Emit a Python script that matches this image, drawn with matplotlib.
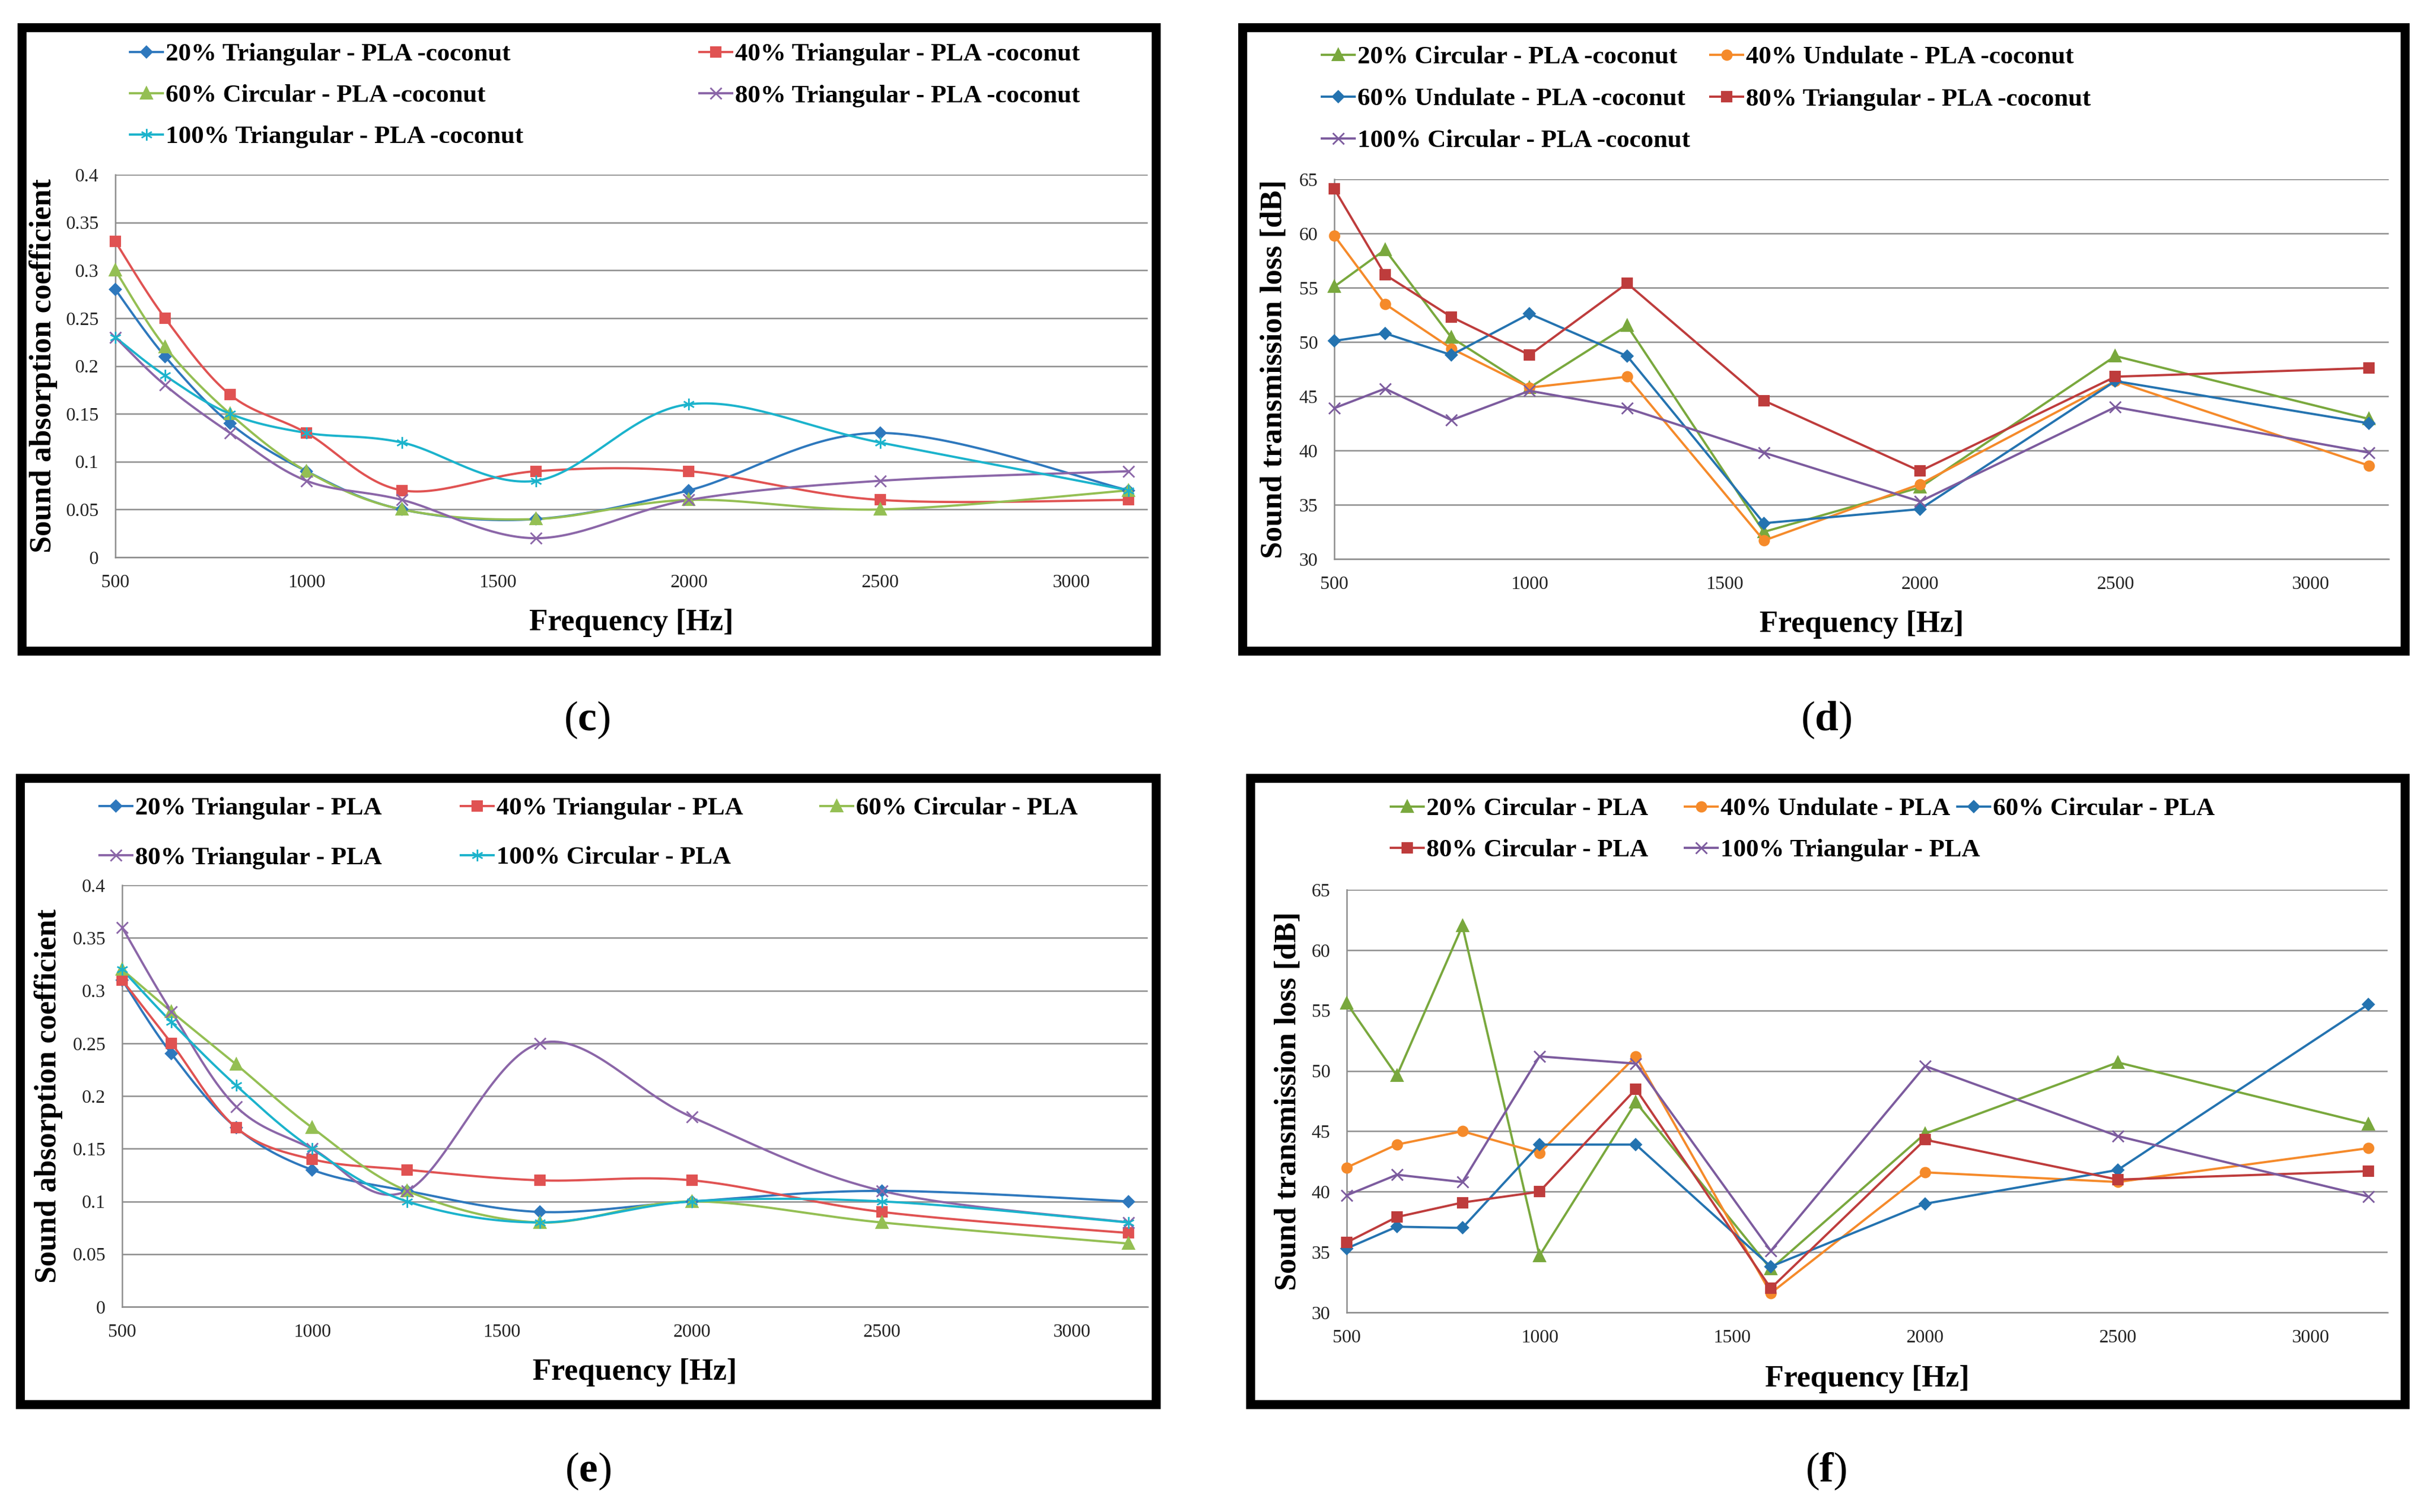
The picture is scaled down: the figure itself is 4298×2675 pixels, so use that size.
import numpy as np
import matplotlib
matplotlib.use("Agg")
import matplotlib.pyplot as plt
from matplotlib.lines import Line2D
from matplotlib.patches import Rectangle
from matplotlib.path import Path

W, H, DPI = 4298, 2675, 300

plt.rcParams['font.family'] = ['Liberation Serif', 'DejaVu Serif']
plt.rcParams['mathtext.fontset'] = 'custom'
plt.rcParams['mathtext.rm'] = 'Liberation Serif'
plt.rcParams['mathtext.bf'] = 'Liberation Serif:bold'

# frequencies (Hz)
freq = [500, 630, 800, 1000, 1250, 1600, 2000, 2500, 3150]

# (c) sound absorption coefficient, PLA - coconut
c_labels = ["20% Triangular - PLA -coconut", "40% Triangular - PLA -coconut",
            "60% Circular - PLA -coconut", "80% Triangular - PLA -coconut",
            "100% Triangular - PLA -coconut"]
c_tri20 = [0.28, 0.21, 0.14, 0.09, 0.05, 0.04, 0.07, 0.13, 0.07]
c_tri40 = [0.33, 0.25, 0.17, 0.13, 0.07, 0.09, 0.09, 0.06, 0.06]
c_cir60 = [0.30, 0.22, 0.15, 0.09, 0.05, 0.04, 0.06, 0.05, 0.07]
c_tri80 = [0.23, 0.18, 0.13, 0.08, 0.06, 0.02, 0.06, 0.08, 0.09]
c_tri100 = [0.23, 0.19, 0.15, 0.13, 0.12, 0.08, 0.16, 0.12, 0.07]

# (d) sound transmission loss, PLA - coconut
d_labels = ["20% Circular - PLA -coconut", "40% Undulate - PLA -coconut",
            "60% Undulate - PLA -coconut", "80% Triangular - PLA -coconut",
            "100% Circular - PLA -coconut"]
d_cir20 = [55.1, 58.5, 50.4, 45.8, 51.5, 32.5, 36.6, 48.7, 42.9]
d_und40 = [59.8, 53.5, 49.4, 45.8, 46.8, 31.7, 36.9, 46.4, 38.6]
d_und60 = [50.1, 50.8, 48.8, 52.6, 48.7, 33.3, 34.6, 46.4, 42.5]
d_tri80 = [64.1, 56.2, 52.3, 48.8, 55.4, 44.6, 38.1, 46.8, 47.6]
d_cir100 = [43.9, 45.7, 42.8, 45.5, 43.9, 39.8, 35.3, 44.0, 39.8]

# (e) sound absorption coefficient, PLA
e_labels = ["20% Triangular - PLA", "40% Triangular - PLA", "60% Circular - PLA",
            "80% Triangular - PLA", "100% Circular - PLA"]
e_tri20 = [0.31, 0.24, 0.17, 0.13, 0.11, 0.09, 0.10, 0.11, 0.10]
e_tri40 = [0.31, 0.25, 0.17, 0.14, 0.13, 0.12, 0.12, 0.09, 0.07]
e_cir60 = [0.32, 0.28, 0.23, 0.17, 0.11, 0.08, 0.10, 0.08, 0.06]
e_tri80 = [0.36, 0.28, 0.19, 0.15, 0.11, 0.25, 0.18, 0.11, 0.08]
e_cir100 = [0.32, 0.27, 0.21, 0.15, 0.10, 0.08, 0.10, 0.10, 0.08]

# (f) sound transmission loss, PLA
f_labels = ["20% Circular - PLA", "40% Undulate - PLA", "60% Circular - PLA",
            "80% Circular - PLA", "100% Triangular - PLA"]
f_cir20 = [55.6, 49.6, 62.0, 34.7, 47.4, 33.6, 44.8, 50.7, 45.6]
f_und40 = [42.0, 43.9, 45.0, 43.2, 51.2, 31.6, 41.6, 40.8, 43.6]
f_cir60 = [35.3, 37.1, 37.0, 43.9, 43.9, 33.8, 39.0, 41.8, 55.5]
f_cir80 = [35.8, 37.9, 39.1, 40.0, 48.5, 32.0, 44.3, 41.0, 41.7]
f_tri100 = [39.7, 41.4, 40.8, 51.2, 50.6, 35.1, 50.4, 44.6, 39.6]

# asterisk marker like the spreadsheet one
star = Path([(0, -1), (0, 1), (-0.87, -0.5), (0.87, 0.5), (-0.87, 0.5), (0.87, -0.5)],
            [Path.MOVETO, Path.LINETO, Path.MOVETO, Path.LINETO, Path.MOVETO, Path.LINETO])

MK = {'D': dict(marker='D', ms=3.0), 's': dict(marker='s', ms=3.8),
      '^': dict(marker='^', ms=4.3), 'x': dict(marker='x', ms=4.6, mew=0.7),
      '*': dict(marker=star, ms=5.0, mew=0.7), 'o': dict(marker='o', ms=3.8)}

FRAME_LW = 3.8
HALF = FRAME_LW / 72 * DPI / 2  # half the border width in pixels


def smooth(xs, ys, n=40):
    # spreadsheet style smoothed line (Catmull-Rom bezier)
    x = np.asarray(xs, float)
    y = np.asarray(ys, float)
    px = np.concatenate([[x[0]], x, [x[-1]]])
    py = np.concatenate([[y[0]], y, [y[-1]]])
    t = np.linspace(0, 1, n)[:, None]
    out = []
    for i in range(len(x) - 1):
        p0 = np.array([px[i + 1], py[i + 1]])
        p3 = np.array([px[i + 2], py[i + 2]])
        c1 = p0 + (np.array([px[i + 2], py[i + 2]]) - np.array([px[i], py[i]])) / 6
        c2 = p3 - (np.array([px[i + 3], py[i + 3]]) - np.array([px[i + 1], py[i + 1]])) / 6
        seg = ((1 - t) ** 3) * p0 + 3 * ((1 - t) ** 2) * t * c1 + 3 * (1 - t) * t ** 2 * c2 + t ** 3 * p3
        out.append(seg)
    out = np.vstack(out)
    return out[:, 0], out[:, 1]


fig = plt.figure(figsize=(W / DPI, H / DPI), dpi=DPI)


def fx(px):
    return px / W


def fy(py):
    return 1 - py / H


def draw_panel(frame, plot, ylim, yticks, ylabel, series, leg_pos, smoothed,
               tag, tag_xy, xlab_off, ylab_off):
    # frame given as outer edges in pixels
    x0, y0, x1, y1 = frame
    x0, y0, x1, y1 = x0 + HALF, y0 + HALF, x1 - HALF, y1 - HALF
    fig.add_artist(Rectangle((fx(x0), fy(y1)), fx(x1) - fx(x0), fy(y0) - fy(y1),
                             transform=fig.transFigure, fill=False,
                             edgecolor='black', lw=FRAME_LW, zorder=10))
    a0, b0, a1, b1 = plot
    ax = fig.add_axes([fx(a0), fy(b1), fx(a1) - fx(a0), fy(b0) - fy(b1)])
    for ys, lab, col, mk in series:
        if smoothed:
            sx, sy = smooth(freq, ys)
            ax.plot(sx, sy, color=col, lw=0.95, clip_on=False, zorder=3)
            ax.plot(freq, ys, ls='none', color=col, clip_on=False, zorder=4, **MK[mk])
        else:
            ax.plot(freq, ys, color=col, lw=0.95, clip_on=False, zorder=3, **MK[mk])
    ax.set_xlim(500, 3200)
    ax.set_ylim(*ylim)
    ax.set_xticks([500, 1000, 1500, 2000, 2500, 3000])
    ax.set_yticks(yticks)
    ax.set_yticklabels([f'{v:g}' for v in yticks])
    ax.tick_params(length=0, labelsize=8, colors='#222222', pad=7)
    ax.yaxis.grid(True, color='#8c8c8c', lw=0.6)
    ax.set_axisbelow(True)
    for s in ['top', 'right']:
        ax.spines[s].set_visible(False)
    for s in ['left', 'bottom']:
        ax.spines[s].set_color('#8c8c8c')
        ax.spines[s].set_linewidth(0.6)
    ax.set_xlabel('Frequency [Hz]', fontsize=13, fontweight='bold')
    ax.xaxis.set_label_coords(0.5, xlab_off)
    ax.xaxis.label.set_verticalalignment('center')
    ax.set_ylabel(ylabel, fontsize=13, fontweight='bold')
    ax.yaxis.set_label_coords(ylab_off, 0.5)
    ax.yaxis.label.set_verticalalignment('center')

    # legend entries placed like the spreadsheet legend
    for (ys, lab, col, mk), (lx, ly) in zip(series, leg_pos):
        fig.add_artist(Line2D([fx(lx), fx(lx + 58)], [fy(ly), fy(ly)], color=col, lw=0.95,
                              transform=fig.transFigure))
        fig.add_artist(Line2D([fx(lx + 29)], [fy(ly)], color=col, ls='none',
                              transform=fig.transFigure, **MK[mk]))
        fig.text(fx(lx + 63), fy(ly), lab, fontsize=10.8, fontweight='bold',
                 ha='left', va='center_baseline')

    fig.text(fx(tag_xy[0]), fy(tag_xy[1]), '(' + r'$\mathbf{' + tag + '}$' + ')',
             fontsize=18, ha='center', va='center')
    return ax


blue1, red1, green1, purple1, cyan1 = '#2E78BD', '#E05252', '#94BF53', '#8B66A8', '#1BB3CC'
green2, orange2, blue2, red2, purple2 = '#79A83D', '#F58A2A', '#2473B0', '#BE3C3C', '#7C5B9E'

sac_ticks = [0, 0.05, 0.1, 0.15, 0.2, 0.25, 0.3, 0.35, 0.4]
stl_ticks = [30, 35, 40, 45, 50, 55, 60, 65]

draw_panel((31, 41, 2053, 1160), (204, 309, 2030, 986), (0, 0.4), sac_ticks,
           'Sound absorption coefficient',
           [(c_tri20, c_labels[0], blue1, 'D'), (c_tri40, c_labels[1], red1, 's'),
            (c_cir60, c_labels[2], green1, '^'), (c_tri80, c_labels[3], purple1, 'x'),
            (c_tri100, c_labels[4], cyan1, '*')],
           [(230, 92), (1237, 92), (230, 165), (1237, 165), (230, 238)],
           True, 'c', (1038, 1274), -0.172, -0.07)

draw_panel((2190, 41, 4262, 1160), (2360, 317, 4225, 989), (30, 65), stl_ticks,
           'Sound transmission loss [dB]',
           [(d_cir20, d_labels[0], green2, '^'), (d_und40, d_labels[1], orange2, 'o'),
            (d_und60, d_labels[2], blue2, 'D'), (d_tri80, d_labels[3], red2, 's'),
            (d_cir100, d_labels[4], purple2, 'x')],
           [(2338, 97), (3025, 97), (2338, 171), (3025, 171), (2338, 245)],
           False, 'd', (3230, 1274), -0.172, -0.057)

draw_panel((28, 1369, 2053, 2493), (216, 1566, 2030, 2312), (0, 0.4), sac_ticks,
           'Sound absorption coefficient',
           [(e_tri20, e_labels[0], blue1, 'D'), (e_tri40, e_labels[1], red1, 's'),
            (e_cir60, e_labels[2], green1, '^'), (e_tri80, e_labels[3], purple1, 'x'),
            (e_cir100, e_labels[4], cyan1, '*')],
           [(176, 1426), (815, 1426), (1451, 1426), (176, 1513), (815, 1513)],
           True, 'e', (1040, 2603), -0.155, -0.072)

draw_panel((2204, 1369, 4262, 2493), (2382, 1574, 4223, 2322), (30, 65), stl_ticks,
           'Sound transmission loss [dB]',
           [(f_cir20, f_labels[0], green2, '^'), (f_und40, f_labels[1], orange2, 'o'),
            (f_cir60, f_labels[2], blue2, 'D'), (f_cir80, f_labels[3], red2, 's'),
            (f_tri100, f_labels[4], purple2, 'x')],
           [(2460, 1427), (2980, 1427), (3462, 1427), (2460, 1500), (2980, 1500)],
           False, 'f', (3230, 2603), -0.158, -0.056)

fig.savefig('out.png', dpi=DPI)
